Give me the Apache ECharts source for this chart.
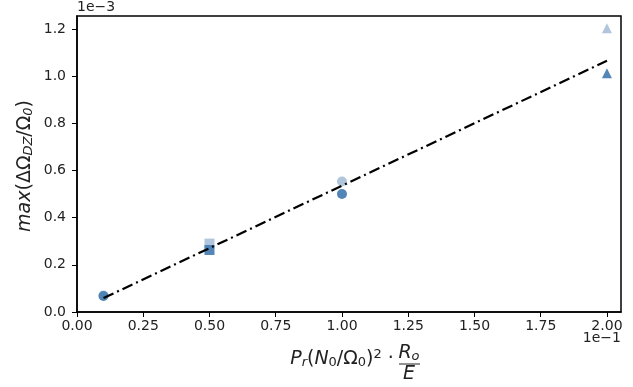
<!DOCTYPE html>
<html><head><meta charset="utf-8">
<script src="https://cdn.jsdelivr.net/npm/echarts@6/dist/echarts.min.js"></script>
<style>html,body{margin:0;padding:0;background:#fff}#c{width:633px;height:387px}</style>
</head><body><div id="c"></div>
<script>
// Data (x in units of 1e-1, y in units of 1e-3)
const xVals = [0.1, 0.5, 1.0, 2.0];
const lightY = [0.07, 0.29, 0.553, 1.203];
const darkY = [0.068, 0.263, 0.50, 1.012];
const markerShapes = ['circle', 'rect', 'circle', 'triangle'];
const fitX = [0.1, 2.0];
const fitY = [0.059, 1.065];
const xTicks = [0, 0.25, 0.5, 0.75, 1.0, 1.25, 1.5, 1.75, 2.0];
const yTicks = [0, 0.2, 0.4, 0.6, 0.8, 1.0, 1.2];

const chart = echarts.init(document.getElementById('c'), null, {renderer: 'canvas'});
const FONT = 'DejaVu Sans';
const mk = (ys) => xVals.map((x, i) => ({value: [x, ys[i]], symbol: markerShapes[i]}));
const tickFont = {fontFamily: FONT, fontSize: 14, color: '#222'};
const LF = 19, SF = 13;
chart.setOption({
  animation: false,
  grid: {left: 77, right: 12, top: 16, bottom: 75, show: true, borderColor: '#000', borderWidth: 1.5},
  xAxis: {
    type: 'value', min: 0, max: 2.053,
    axisLine: {show: true, lineStyle: {color: '#000', width: 1.5}},
    axisTick: {show: true, length: 5, lineStyle: {color: '#000', width: 1}, customValues: xTicks},
    axisLabel: Object.assign({customValues: xTicks, margin: 7, formatter: v => v.toFixed(2)}, tickFont),
    splitLine: {show: false}
  },
  yAxis: {
    type: 'value', min: 0, max: 1.255,
    axisLine: {show: true, lineStyle: {color: '#000', width: 1.5}},
    axisTick: {show: true, length: 5, lineStyle: {color: '#000', width: 1}, customValues: yTicks},
    axisLabel: Object.assign({customValues: yTicks, margin: 11, formatter: v => v.toFixed(1)}, tickFont),
    splitLine: {show: false}
  },
  series: [
    {type: 'scatter', data: mk(lightY), symbolSize: 10, itemStyle: {color: '#adc2da', opacity: 0.95}, z: 2},
    {type: 'scatter', data: mk(darkY), symbolSize: 10, itemStyle: {color: '#4a7fb3', opacity: 0.95}, z: 3},
    {type: 'line', data: fitX.map((x, i) => [x, fitY[i]]), symbol: 'none', z: 4,
     lineStyle: {color: '#000', width: 2.2, type: [11, 4, 2, 4]}}
  ],
  graphic: [
    {type: 'text', left: 77, top: 0, style: {text: '1e\u22123', fontFamily: FONT, fontSize: 14, fill: '#222'}},
    {type: 'text', x: 621, y: 338, style: {text: '1e\u22121', fontFamily: FONT, fontSize: 14, fill: '#222', align: 'right', verticalAlign: 'middle'}},
    {type: 'text', x: 25, y: 166, rotation: Math.PI / 2,
     style: {
       text: '{i|max}{n|(ΔΩ}{s|DZ}{n|/Ω}{s|0}{n|)}',
       align: 'center', verticalAlign: 'middle',
       rich: {
         i: {fontFamily: FONT, fontStyle: 'italic', fontSize: LF, fill: '#222'},
         n: {fontFamily: FONT, fontSize: LF, fill: '#222'},
         s: {fontFamily: FONT, fontStyle: 'italic', fontSize: SF, fill: '#222', padding: [8, 0, 0, 0]}
       }
     }},
    {type: 'text', x: 342, y: 359,
     style: {
       text: '{i|P}{si|r}{n|(}{i|N}{s|0}{n|/Ω}{s|0}{n|)}{p|2}{n| ·}',
       align: 'center', verticalAlign: 'middle',
       rich: {
         i: {fontFamily: FONT, fontStyle: 'italic', fontSize: LF, fill: '#222'},
         n: {fontFamily: FONT, fontSize: LF, fill: '#222'},
         s: {fontFamily: FONT, fontSize: SF, fill: '#222', padding: [8, 0, 0, 0]},
         si: {fontFamily: FONT, fontStyle: 'italic', fontSize: SF, fill: '#222', padding: [8, 0, 0, 0]},
         p: {fontFamily: FONT, fontSize: SF, fill: '#222', padding: [0, 0, 9, 0]}
       }
     }},
    {type: 'text', x: 409, y: 353,
     style: {
       text: '{i|R}{s|o}', align: 'center', verticalAlign: 'middle',
       rich: {
         i: {fontFamily: FONT, fontStyle: 'italic', fontSize: LF, fill: '#222'},
         s: {fontFamily: FONT, fontStyle: 'italic', fontSize: SF, fill: '#222', padding: [8, 0, 0, 0]}
       }
     }},
    {type: 'line', shape: {x1: 399, y1: 364, x2: 420, y2: 364}, style: {stroke: '#222', lineWidth: 1}},
    {type: 'text', x: 409, y: 374, style: {text: 'E', fontFamily: FONT, fontStyle: 'italic', fontSize: LF, fill: '#222', align: 'center', verticalAlign: 'middle'}}
  ]
});
</script></body></html>
